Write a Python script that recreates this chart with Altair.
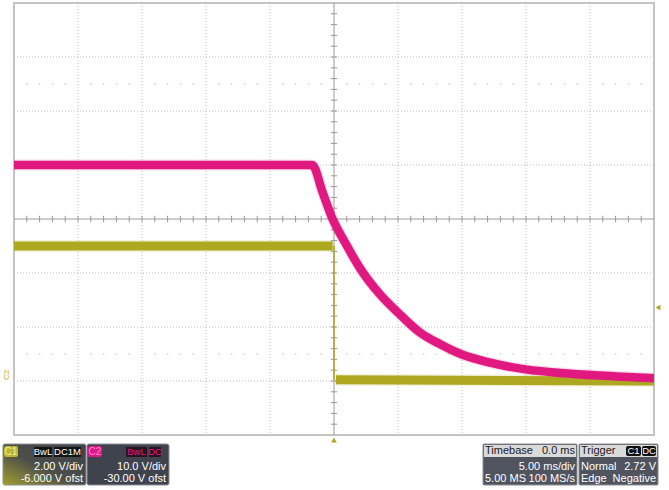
import altair as alt
import pandas as pd
import numpy as np

# ---------------- data read from the screen ----------------
# channel settings
c1_vdiv, c1_ofst = 2.0, -6.0      # V/div, V offset
c2_vdiv, c2_ofst = 10.0, -30.0
trig_level = 2.72                 # V on C1
trig_time = 0.0                   # ms

# C2 (magenta) trace: time [ms], volts
c2_t = [-25.0, -1.7, -0.9, -0.2, 0.9, 2.0, 3.6, 5.2, 6.7, 8.3, 10.1, 12.2, 15.1, 17.7, 20.8, 25.0]
c2_v = [40.0, 40.0, 35.0, 30.5, 25.5, 21.0, 16.0, 12.2, 9.0, 6.8, 4.8, 3.4, 2.1, 1.5, 1.0, 0.5]

# C1 (yellow) trace, three pieces
c1_pre_t, c1_pre_v = [-25.0, -0.1], [5.0, 5.0]
c1_edge_t, c1_edge_v = [0.0, 0.0], [5.0, 0.05]
c1_post_t, c1_post_v = [0.15, 25.0], [0.05, 0.0]

# graticule
major_x = [-20, -15, -10, -5, 5, 10, 15, 20]
major_y = [-3, -2, -1, 1, 2, 3]

MAG = "#E0187F"
YEL = "#ADA81F"
GRID = "#bdbdbd"
AX = "#9a9a9a"
FONT = "Liberation Sans"

xs = alt.Scale(domain=[-25, 25], nice=False, zero=False)
ys = alt.Scale(domain=[-4, 4], nice=False, zero=False)
one = pd.DataFrame({"k": [0]})

def X(f):
    return alt.X(f, type="quantitative", scale=xs, axis=None)

def Y(f):
    return alt.Y(f, type="quantitative", scale=ys, axis=None)

def to_div(v, ofst, vdiv):
    return [(a + ofst) / vdiv for a in v]

# ---------------- graticule ----------------
vgrid = alt.Chart(pd.DataFrame({"x": major_x})).mark_rule(
    color=GRID, strokeDash=[1, 2], strokeWidth=1).encode(x=X("x"))
hgrid = alt.Chart(pd.DataFrame({"y": major_y})).mark_rule(
    color=GRID, strokeDash=[1, 2], strokeWidth=1).encode(y=Y("y"))
cx = alt.Chart(pd.DataFrame({"x": [0]})).mark_rule(color=AX, strokeWidth=1).encode(x=X("x"))
cy = alt.Chart(pd.DataFrame({"y": [0]})).mark_rule(color=AX, strokeWidth=1).encode(y=Y("y"))

tx = [t for t in range(-24, 25) if t != 0]
ticks_h = alt.Chart(pd.DataFrame({"x": tx, "y1": -0.06, "y2": 0.06})).mark_rule(
    color=AX, strokeWidth=1).encode(x=X("x"), y=Y("y1"), y2="y2")
ty = [round(v, 1) for v in np.arange(-3.8, 3.81, 0.2) if abs(v) > 1e-6]
ticks_v = alt.Chart(pd.DataFrame({"y": ty, "x1": -0.25, "x2": 0.25})).mark_rule(
    color=AX, strokeWidth=1).encode(y=Y("y"), x=X("x1"), x2="x2")

dx = [t for t in range(-24, 25) if t % 5 != 0]
dots = alt.Chart(pd.DataFrame({"x": dx * 2, "y": [2.5] * len(dx) + [-2.5] * len(dx)})).mark_square(
    size=2, color="#cfcfcf", opacity=1).encode(x=X("x"), y=Y("y"))

# ---------------- traces ----------------
c2_df = pd.DataFrame({"t": c2_t, "y": to_div(c2_v, c2_ofst, c2_vdiv)})
c1_pre = pd.DataFrame({"t": c1_pre_t, "y": to_div(c1_pre_v, c1_ofst, c1_vdiv)})
c1_edge = pd.DataFrame({"t": c1_edge_t, "y": to_div(c1_edge_v, c1_ofst, c1_vdiv)})
c1_post = pd.DataFrame({"t": c1_post_t, "y": to_div(c1_post_v, c1_ofst, c1_vdiv)})

def trace(df, color, w, interp="linear", op=1.0):
    return alt.Chart(df).mark_line(color=color, strokeWidth=w, strokeCap="butt",
                                   interpolate=interp, opacity=op, clip=True).encode(
        x=X("t"), y=Y("y"), order="t:Q")

yel_halo = [trace(d, YEL, 12, op=0.15) for d in (c1_pre, c1_post)]
yel = [trace(c1_pre, YEL, 9), trace(c1_edge, YEL, 1.5), trace(c1_post, YEL, 9)]
mag_halo = trace(c2_df, MAG, 11, "monotone", 0.15)
mag = trace(c2_df, MAG, 8.5, "monotone")

# ---------------- markers ----------------
trig_bottom = alt.Chart(pd.DataFrame({"t": [trig_time]})).mark_point(
    shape="triangle-up", filled=True, size=32, color=YEL, opacity=1).encode(
    x=X("t"), y=alt.value(437))
trig_right = alt.Chart(pd.DataFrame({"y": to_div([trig_level], c1_ofst, c1_vdiv)})).mark_point(
    shape="triangle-left", filled=True, size=32, color=YEL, opacity=1).encode(
    y=Y("y"), x=alt.value(644))
gnd_label = alt.Chart(one).mark_text(
    text="C2", angle=270, fontSize=8, color="#b5ad30", font=FONT, align="center",
    baseline="middle").encode(x=alt.value(-7), y=alt.value(372))

# ---------------- info boxes (screen chrome, absolute px) ----------------
def rect(x0, y0, x1, y1, fill, stroke=None, sw=0, cr=0):
    kw = dict(fill=fill, cornerRadius=cr)
    if stroke:
        kw.update(stroke=stroke, strokeWidth=sw)
    return alt.Chart(one).mark_rect(**kw).encode(
        x=alt.value(x0 - 14), x2=alt.value(x1 - 14),
        y=alt.value(y0 - 3), y2=alt.value(y1 - 3))

def text(s, x, y, align="left", color="white", size=11, weight="normal"):
    return alt.Chart(one).mark_text(
        text=s, align=align, baseline="middle", color=color, fontSize=size,
        font=FONT, fontWeight=weight).encode(x=alt.value(x - 14), y=alt.value(y - 3))

c1_grad = alt.LinearGradient(
    gradient="linear",
    stops=[alt.GradientStop(offset=0, color="#a3a030"),
           alt.GradientStop(offset=0.45, color="#4c4e48"),
           alt.GradientStop(offset=1, color="#3e424c")],
    x1=0, y1=1, x2=1, y2=0)

boxes = [
    # C1
    rect(3, 444, 86, 485, c1_grad, "#8d8f96", 1, 2),
    rect(4, 446, 18, 457, "#bdb52e", cr=2),
    text("C1", 11, 451.5, "center", "#f4f1a8", 10),
    rect(34, 447, 52, 457, "#141414", cr=1),
    text("BwL", 43, 452, "center", "white", 9.5),
    rect(54, 447, 81, 457, "#141414", cr=1),
    text("DC1M", 67.5, 452, "center", "white", 9.5),
    text("2.00 V/div", 83, 466.5, "right"),
    text("-6.000 V ofst", 83, 478.5, "right"),
    # C2
    rect(87, 444, 169, 485, "#3f434d", "#8d8f96", 1, 2),
    rect(88, 446, 102, 457, "#e0158a", cr=2),
    text("C2", 95, 451.5, "center", "#ff8cca", 10),
    rect(126, 447, 147, 457, "#2a1420", cr=1),
    text("BwL", 136.5, 452, "center", "#e0158a", 9.5),
    rect(149, 447, 161, 457, "#2a1420", cr=1),
    text("DC", 155, 452, "center", "#e0158a", 9.5),
    text("10.0 V/div", 166, 466.5, "right"),
    text("-30.00 V ofst", 166, 478.5, "right"),
    # Timebase
    rect(483, 444, 577, 485, "#50545f", "#8d8f96", 1, 1),
    rect(484, 445, 576, 457, "#dadada"),
    text("Timebase", 485, 451, "left", "#202020"),
    text("0.0 ms", 575, 451, "right", "#202020"),
    text("5.00 ms/div", 575, 466.5, "right"),
    text("5.00 MS", 485, 478.5, "left"),
    text("100 MS/s", 575, 478.5, "right"),
    # Trigger
    rect(579, 444, 658, 485, "#50545f", "#8d8f96", 1, 1),
    rect(580, 445, 657, 457, "#dadada"),
    text("Trigger", 581, 451, "left", "#202020"),
    rect(626, 446, 641, 456, "#111111", cr=2),
    text("C1", 633.5, 451, "center", "white", 9.5),
    rect(642, 446, 656, 456, "#111111", cr=2),
    text("DC", 649, 451, "center", "white", 9.5),
    text("Normal", 581, 466.5, "left"),
    text("2.72 V", 656, 466.5, "right"),
    text("Edge", 581, 478.5, "left"),
    text("Negative", 656, 478.5, "right"),
]

chart = alt.layer(
    vgrid, hgrid, dots, cx, cy, ticks_h, ticks_v,
    *yel_halo, mag_halo, *yel, mag,
    trig_bottom, trig_right, gnd_label, *boxes
).properties(
    width=640, height=432,
    padding={"left": 14, "top": 3, "right": 15, "bottom": 55},
    autosize=alt.AutoSizeParams(type="none"),
    background="white",
).configure_view(stroke="#c4c4c4", strokeWidth=2)

chart.save("out.html", embed_options={"renderer": "svg", "actions": False})
